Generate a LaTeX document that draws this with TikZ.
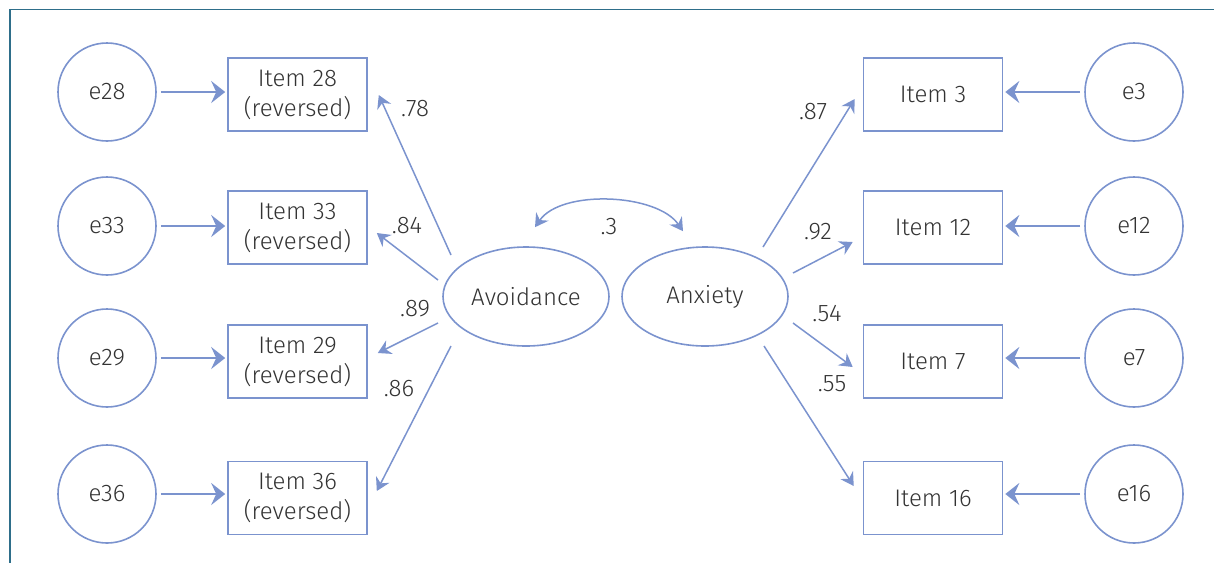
\documentclass[tikz,border=0pt]{standalone}
\usepackage{fontspec}
\setmainfont{Fira Sans}[UprightFont=* Light]
\usepackage{xcolor}
\usepackage{tikz}
\usetikzlibrary{arrows.meta,shapes.geometric}
\definecolor{semblue}{HTML}{7B93CE}
\definecolor{frameteal}{HTML}{2E6E8A}
\definecolor{txtgray}{HTML}{333333}

\begin{document}
\begin{tikzpicture}[x=0.5pt,y=-0.5pt,
    every node/.style={text=txtgray,font=\fontsize{12}{15}\selectfont},
    errnode/.style={circle,draw=semblue,line width=0.8pt,minimum size=49pt,inner sep=0pt},
    itembox/.style={rectangle,draw=semblue,line width=0.8pt,minimum width=69.5pt,
      minimum height=36.5pt,align=center,inner sep=0pt},
    latent/.style={ellipse,draw=semblue,line width=0.8pt,minimum width=83pt,
      minimum height=49.5pt,inner sep=0pt},
    errarrow/.style={semblue,line width=1pt,
      -{Stealth[length=7pt,width=11pt,inset=2.5pt]},shorten <=2pt,shorten >=1pt},
    loadarrow/.style={semblue,line width=0.75pt,-{Stealth[length=6.5pt,width=7.5pt,inset=2.2pt]}},
    coef/.style={font=\fontsize{12}{14}\selectfont}]
  \useasboundingbox (0,0) rectangle (1214,563);
  % Frame
  \draw[frameteal,line width=0.8pt] (1214,9.5) -- (10,9.5) -- (10,563);
  % Latent factors
  \node[latent] (avo) at (526,296.5) {Avoidance};
  \node[latent] (anx) at (705,296.5) {Anxiety};
  % Avoidance items with errors
  \foreach \n/\y/\ey in {28/94.5/92, 33/227.5/226, 29/361.5/358, 36/498/494} {
    \node[itembox] (i\n) at (297.5,\y) {Item \n\\(reversed)};
    \node[errnode] (e\n) at (107,\ey) {e\n};
    \draw[errarrow] (e\n) -- (e\n -| i\n.west);
  }
  % Anxiety items with errors
  \foreach \n/\y/\ey in {3/94.5/92, 12/227.5/226, 7/361.5/358, 16/498/494} {
    \node[itembox] (i\n) at (933,\y) {Item \n};
    \node[errnode] (e\n) at (1134,\ey) {e\n};
    \draw[errarrow] (e\n) -- (e\n -| i\n.east);
  }
  % Loadings (Avoidance)
  \draw[loadarrow] ([shift={(-75,-41.5)}]avo.center) -- ([shift={(11,0.5)}]i28.east);
  \draw[loadarrow] ([shift={(-88,-16.5)}]avo.center) -- ([shift={(9,5.5)}]i33.east);
  \draw[loadarrow] ([shift={(-88,26.5)}]avo.center) -- ([shift={(10,-8.5)}]i29.east);
  \draw[loadarrow] ([shift={(-75,49.5)}]avo.center) -- ([shift={(9,-7)}]i36.east);
  \node[coef] at (415,109) {.78};
  \node[coef] at (407,226) {.84};
  \node[coef] at (415,309) {.89};
  \node[coef] at (399,389) {.86};
  % Loadings (Anxiety)
  \draw[loadarrow] ([shift={(58,-49.5)}]anx.center) -- ([shift={(-8,4.5)}]i3.west);
  \draw[loadarrow] ([shift={(88,-23.5)}]anx.center) -- ([shift={(-10,14.5)}]i12.west);
  \draw[loadarrow] ([shift={(88,26.5)}]anx.center) -- ([shift={(-10,5.5)}]i7.west);
  \draw[loadarrow] ([shift={(59,49.5)}]anx.center) -- ([shift={(-9,-12)}]i16.west);
  \node[coef] at (813,112) {.87};
  \node[coef] at (818,232) {.92};
  \node[coef] at (827,314) {.54};
  \node[coef] at (832,384) {.55};
  % Covariance
  \draw[loadarrow,{Stealth[length=6.5pt,width=7.5pt,inset=2.2pt]}-{Stealth[length=6.5pt,width=7.5pt,inset=2.2pt]}]
    ([shift={(9,-19)}]avo.north) .. controls +(26,-38) and +(-26,-38) .. ([shift={(-22,-15)}]anx.north);
  \node[coef] at (609,227) {.3};
\end{tikzpicture}
\end{document}
